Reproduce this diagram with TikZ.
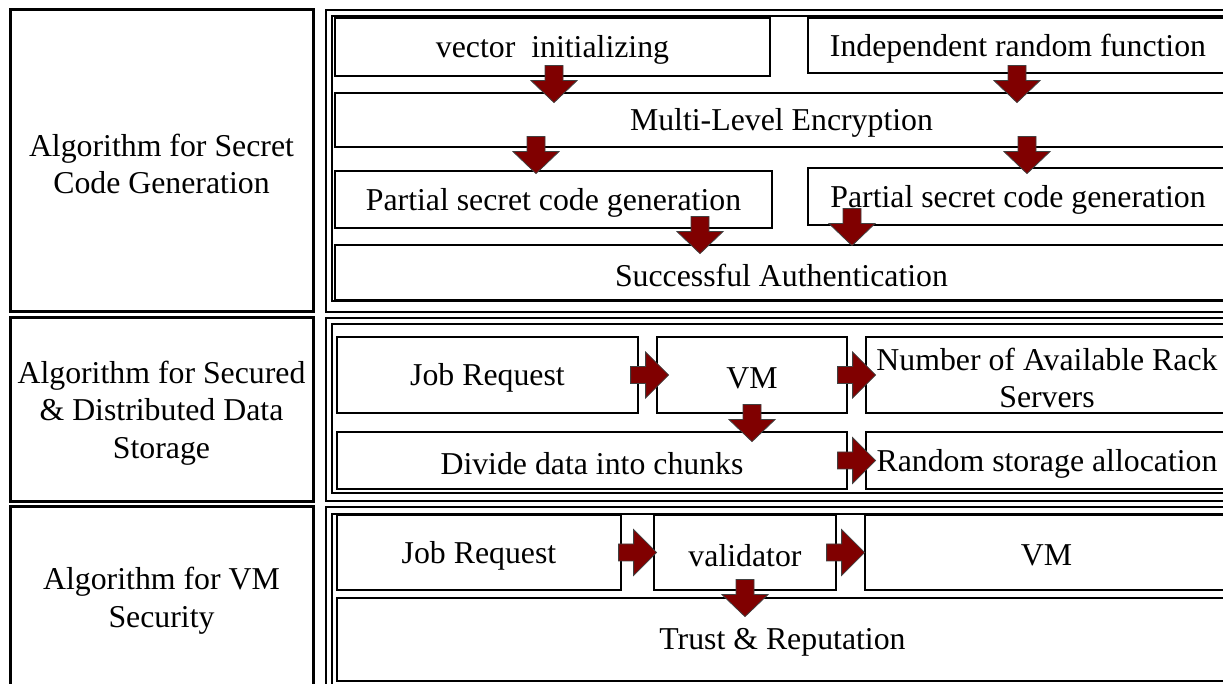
\documentclass[tikz,border=0pt]{standalone}
\usepackage{fontspec}
\setmainfont{Liberation Serif}
\usetikzlibrary{calc}
\definecolor{arrowred}{RGB}{128,0,0}
\tikzset{
  lbox/.style={draw, line width=1.5pt, inner sep=0pt},
  sbox/.style={draw, line width=1.4pt, inner sep=0pt},
  boxtext/.style={inner sep=0pt, align=center},
  pout/.style={line width=1.25pt},
  pin/.style={line width=0.75pt},
  barrow/.style={fill=arrowred, draw=black!75, line width=0.4pt, line join=miter},
  rarr/.pic={\path[barrow] (0,0) -- (-23,-23) -- (-23,-8.5) -- (-38,-8.5) -- (-38,8.5) -- (-23,8.5) -- (-23,23) -- cycle;},
  darr/.pic={\path[barrow] (0,0) -- (-23,-22) -- (-9,-22) -- (-9,-37) -- (9,-37) -- (9,-22) -- (23,-22) -- cycle;}
}
% box from corner (x1,y1) to (x2,y2), in pixel units, with its text
\newcommand\pxbox[7]{%
  \node[#1, minimum width={(#5-#3)*0.5pt}, minimum height={(#6-#4)*0.5pt}]
    (#2) at ({(#3+#5)/2},{(#4+#6)/2}) {};
  \node[boxtext] (#2-t) at ($(#2.center)+(0,3)$) {#7};}
\begin{document}
\begin{tikzpicture}[x=0.5pt,y=-0.5pt,font=\fontsize{15.9}{18.8}\selectfont]
\useasboundingbox (0,0) rectangle (1223,684);
\clip (0,0) rectangle (1223,684);
% left column
\pxbox{lbox}{l1}{10}{10}{313}{312}{Algorithm for Secret\\Code Generation}
\pxbox{lbox}{l2}{10}{318}{313}{502}{Algorithm for Secured\\\& Distributed Data\\Storage}
\pxbox{lbox}{l3}{10}{507}{313}{689}{Algorithm for VM\\Security}
% panel frames (double border)
\draw[pout] (326,10) rectangle (1240,312);
\draw[pin] (332,16) rectangle (1234,301);
\draw[pout] (326,318) rectangle (1240,501);
\draw[pin] (332,324) rectangle (1234,493);
\draw[pout] (326,507) rectangle (1240,700);
\draw[pin] (332,514) rectangle (1234,690);
% panel 1
\pxbox{sbox}{vec}{335}{18}{770}{76}{vector~~initializing}
\pxbox{sbox}{ind}{808}{18}{1228}{73}{Independent random function}
\pxbox{sbox}{mle}{335}{93}{1228}{147}{Multi-Level Encryption}
\pxbox{sbox}{ps1}{335}{171}{772}{228}{Partial secret code generation}
\pxbox{sbox}{ps2}{808}{168}{1228}{225}{Partial secret code generation}
\pxbox{sbox}{sa}{335}{245}{1228}{300}{Successful Authentication}
% panel 2
\pxbox{sbox}{jr}{337}{337}{638}{413}{Job Request}
\pxbox{sbox}{vm}{657}{337}{847}{413}{VM}
\pxbox{sbox}{nr}{866}{337}{1228}{413}{Number of Available Rack\\Servers}
\pxbox{sbox}{dd}{337}{432}{847}{489}{Divide data into chunks}
\pxbox{sbox}{rs}{866}{432}{1228}{489}{Random storage allocation}
% panel 3
\pxbox{sbox}{jr2}{337}{515}{621}{590}{Job Request}
\pxbox{sbox}{val}{654}{515}{836}{590}{validator}
\pxbox{sbox}{vm2}{865}{515}{1228}{590}{VM}
\pxbox{sbox}{tr}{337}{598}{1228}{681}{Trust \& Reputation}
% arrows panel 1
\pic at ($(mle.north -| 554,0)+(0,11)$) {darr};
\pic at ($(mle.north -| 1017,0)+(0,11)$) {darr};
\pic at ($(ps1.north -| 536,0)+(0,4)$) {darr};
\pic at ($(ps2.north -| 1027,0)+(0,7)$) {darr};
\pic at ($(sa.north -| 700,0)+(0,10)$) {darr};
\pic at ($(sa.north -| 852,0)+(0,2)$) {darr};
% arrows panel 2
\pic at ($(vm.west |- jr.east)+(13,0)$) {rarr};
\pic at ($(nr.west |- vm.east)+(11,0)$) {rarr};
\pic at ($(dd.north -| 752,0)+(0,11)$) {darr};
\pic at ($(rs.west |- dd.east)+(11,0)$) {rarr};
% arrows panel 3
\pic at ($(val.west |- jr2.east)+(4,0)$) {rarr};
\pic at ($(vm2.west |- val.east)+(1,0)$) {rarr};
\pic at ($(tr.north -| 745,0)+(0,20)$) {darr};
\end{tikzpicture}
\end{document}
